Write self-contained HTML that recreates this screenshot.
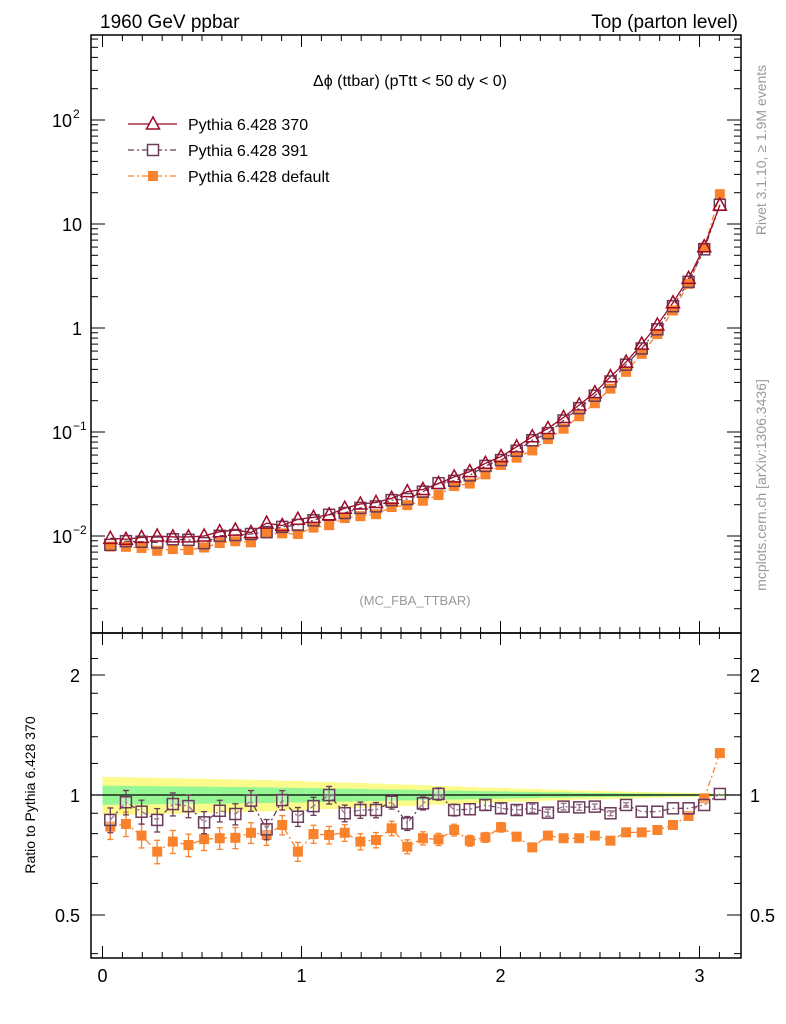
<!DOCTYPE html>
<html><head><meta charset="utf-8">
<style>
html,body{margin:0;padding:0;background:#fff;}
svg{display:block;font-family:"Liberation Sans",sans-serif;}
</style></head>
<body>
<svg id="chart" width="786" height="1024" viewBox="0 0 786 1024" xmlns="http://www.w3.org/2000/svg">
<g id="bands"></g>
<g id="marks"></g>
<g id="axes"></g>
<text x="100" y="28" font-size="19">1960 GeV ppbar</text>
<text x="738" y="28" font-size="19" text-anchor="end">Top (parton level)</text>
<text x="410" y="86" font-size="16" text-anchor="middle">Δϕ (ttbar) (pTtt &lt; 50 dy &lt; 0)</text>
<text x="415" y="605" font-size="13" fill="#999" text-anchor="middle">(MC_FBA_TTBAR)</text>
<text transform="translate(766,150) rotate(-90)" font-size="14" fill="#999" text-anchor="middle">Rivet 3.1.10, ≥ 1.9M events</text>
<text transform="translate(766,485) rotate(-90)" font-size="14" fill="#999" text-anchor="middle">mcplots.cern.ch [arXiv:1306.3436]</text>
<text transform="translate(35,795) rotate(-90)" font-size="14" text-anchor="middle">Ratio to Pythia 6.428 370</text>
<g>
 <g>
  <line x1="128" y1="124" x2="177" y2="124" stroke="#9b0a26" stroke-width="1.3"/>
  <path d="M153,117 L159.5,129 L146.5,129 Z" fill="#fff" stroke="#9b0a26" stroke-width="1.5"/>
  <text x="188" y="130" font-size="16">Pythia 6.428 370</text>
 </g>
 <g>
  <line x1="128" y1="150" x2="177" y2="150" stroke="#6b3a5a" stroke-width="1.3" stroke-dasharray="6,3,2,3"/>
  <rect x="147.5" y="144.5" width="11" height="11" fill="#fff" stroke="#6b3a5a" stroke-width="1.5"/>
  <text x="188" y="156" font-size="16">Pythia 6.428 391</text>
 </g>
 <g>
  <line x1="128" y1="176" x2="177" y2="176" stroke="#f9832d" stroke-width="1.3" stroke-dasharray="6,3,2,3"/>
  <rect x="148" y="171" width="10" height="10" fill="#f9832d"/>
  <text x="188" y="182" font-size="16">Pythia 6.428 default</text>
 </g>
</g>
</svg>
<script>
const mc370=[0.0095,0.0093,0.0097,0.0100,0.0098,0.0098,0.0100,0.0110,0.0114,0.0108,0.0133,0.0126,0.0145,0.0151,0.0160,0.0185,0.0203,0.0210,0.0230,0.0267,0.028,0.032,0.037,0.0416,0.050,0.058,0.072,0.090,0.108,0.138,0.182,0.239,0.34,0.47,0.70,1.07,1.75,3.0,6.05,15.2];
const ratio391=[0.866,0.959,0.908,0.866,0.949,0.938,0.854,0.913,0.896,0.968,0.820,0.971,0.882,0.938,1.0,0.900,0.917,0.917,0.962,0.849,0.953,1.006,0.917,0.921,0.944,0.926,0.917,0.926,0.903,0.935,0.931,0.935,0.900,0.944,0.908,0.908,0.926,0.926,0.944,1.006];
const ratioDef=[0.833,0.846,0.791,0.721,0.764,0.749,0.775,0.779,0.781,0.804,0.794,0.841,0.721,0.798,0.794,0.804,0.764,0.771,0.825,0.742,0.779,0.774,0.817,0.768,0.783,0.830,0.786,0.739,0.791,0.779,0.779,0.791,0.768,0.806,0.806,0.817,0.841,0.886,0.981,1.274];
const relErr=[0.055,0.054,0.053,0.052,0.051,0.050,0.049,0.048,0.047,0.046,0.045,0.043,0.042,0.040,0.039,0.037,0.036,0.034,0.032,0.031,0.029,0.027,0.026,0.024,0.022,0.021,0.019,0.018,0.016,0.015,0.013,0.012,0.011,0.010,0.009,0.008,0.007,0.006,0.005,0.004];
const xTicks=[0,1,2,3];
const mainTicks=[{v:100,l:"10",e:"2"},{v:10,l:"10"},{v:1,l:"1"},{v:0.1,l:"10",e:"−1"},{v:0.01,l:"10",e:"−2"}];
const ratioTicks=[{v:2,l:"2"},{v:1,l:"1"},{v:0.5,l:"0.5"}];
const NB=mc370.length, XMAX=Math.PI;

const L=91,R=741,T=35,MB=633,RB=958;
const sx=v=>102.5+199*v;
const sy=v=>120-104*(Math.log10(v)-2);
const sr=v=>795-120*Math.log2(v);
const NS="http://www.w3.org/2000/svg";
function mk(tag,attrs,parent){const e=document.createElementNS(NS,tag);for(const k in attrs)e.setAttribute(k,attrs[k]);parent.appendChild(e);return e;}
const bands=document.getElementById('bands'),marks=document.getElementById('marks'),axes=document.getElementById('axes');
const bw=XMAX/NB;
const xc=i=>(i+0.5)*bw;

// bands
for(let i=0;i<NB;i++){
  const x0=sx(i*bw),x1=sx((i+1)*bw);
  const y=mk('rect',{x:x0,y:sr(1+2*relErr[i]),width:x1-x0+0.5,height:sr(1-2*relErr[i])-sr(1+2*relErr[i]),fill:'#fbfb8c'},bands);
  
  
  const g=mk('rect',{x:x0,y:sr(1+relErr[i]),width:x1-x0+0.5,height:sr(1-relErr[i])-sr(1+relErr[i]),fill:'#94f794'},bands);
  
  
}
const one=mk('line',{x1:L,x2:R,y1:sr(1),y2:sr(1),stroke:'#000','stroke-width':1.3},bands);



function poly(pts,col,dash,name){
  const p=mk('polyline',{points:pts.map(q=>q.join(',')).join(' '),fill:'none',stroke:col,'stroke-width':1.3},marks);
  if(dash)p.setAttribute('stroke-dasharray',dash);
  
  
}
function errbar(x,y0,y1,col){
  mk('line',{x1:x,x2:x,y1:y0,y2:y1,stroke:col,'stroke-width':1.3},marks);
  mk('line',{x1:x-3,x2:x+3,y1:y0,y2:y0,stroke:col,'stroke-width':1.3},marks);
  mk('line',{x1:x-3,x2:x+3,y1:y1,y2:y1,stroke:col,'stroke-width':1.3},marks);
}
const cR='#9b0a26',cP='#6b3a5a',cO='#f9832d';
const mc391=mc370.map((v,i)=>v*ratio391[i]);
const mcDef=mc370.map((v,i)=>v*ratioDef[i]);
// main lines
poly(mcDef.map((v,i)=>[sx(xc(i)),sy(v)]),cO,'6,3,2,3','line-default');
poly(mc391.map((v,i)=>[sx(xc(i)),sy(v)]),cP,'6,3,2,3','line-391');
poly(mc370.map((v,i)=>[sx(xc(i)),sy(v)]),cR,null,'line-370');
// ratio lines
poly(ratioDef.map((v,i)=>[sx(xc(i)),sr(v)]),cO,'6,3,2,3','ratio-line-default');
poly(ratio391.map((v,i)=>[sx(xc(i)),sr(v)]),cP,'6,3,2,3','ratio-line-391');

for(let i=0;i<NB;i++){
  const x=sx(xc(i));
  // main markers
  let m=mk('rect',{x:x-5,y:sy(mcDef[i])-5,width:10,height:10,fill:cO},marks);
  
  
  m=mk('rect',{x:x-5.5,y:sy(mc391[i])-5.5,width:11,height:11,fill:'none',stroke:cP,'stroke-width':1.5},marks);
  
  
  const y=sy(mc370[i]);
  m=mk('path',{d:`M${x},${y-7} L${x+6.5},${y+5} L${x-6.5},${y+5} Z`,fill:'none',stroke:cR,'stroke-width':1.5},marks);
  
  
  // ratio markers
  const e=relErr[i]*1.3;
  if(e>0.012)errbar(x,sr(ratioDef[i]*(1+e)),sr(ratioDef[i]*(1-e)),cO);
  m=mk('rect',{x:x-5,y:sr(ratioDef[i])-5,width:10,height:10,fill:cO},marks);
  
  
  if(e>0.012)errbar(x,sr(ratio391[i]*(1+e)),sr(ratio391[i]*(1-e)),cP);
  m=mk('rect',{x:x-5.5,y:sr(ratio391[i])-5.5,width:11,height:11,fill:'#fff','fill-opacity':0.3,stroke:cP,'stroke-width':1.5},marks);
  
  
}

// frames
for(const [t,b,n] of [[T,MB,'main-frame'],[MB,RB,'ratio-frame']]){
  const f=mk('rect',{x:L,y:t,width:R-L,height:b-t,fill:'none',stroke:'#000','stroke-width':1.5},axes);
  
  
}
// x ticks
for(let k=0;k<=31;k++){
  const v=k/10,x=sx(v),len=(k%10===0)?12:6;
  for(const [yb,yt] of [[MB,T],[RB,MB]]){
    mk('line',{x1:x,x2:x,y1:yb,y2:yb-len,stroke:'#000','stroke-width':1},axes);
    mk('line',{x1:x,x2:x,y1:yt,y2:yt+len,stroke:'#000','stroke-width':1},axes);
  }
}
xTicks.forEach(v=>{
  const t=mk('text',{x:sx(v),y:982,'font-size':18,'text-anchor':'middle'},axes);
  t.textContent=v;
  
  
});
// main y ticks (log)
for(let d=-3;d<=2;d++){
  for(let m=1;m<=9;m++){
    const v=m*Math.pow(10,d),y=sy(v);
    if(y<T||y>MB)continue;
    const len=m===1?14:7;
    mk('line',{x1:L,x2:L+len,y1:y,y2:y,stroke:'#000','stroke-width':1},axes);
    mk('line',{x1:R,x2:R-len,y1:y,y2:y,stroke:'#000','stroke-width':1},axes);
  }
}
mainTicks.forEach(tk=>{
  const t=mk('text',{x:tk.e?72:82,y:sy(tk.v)+7,'font-size':18,'text-anchor':'end'},axes);
  t.textContent=tk.l;
  
  
  if(tk.e){const s=mk('text',{x:73,y:sy(tk.v)-2,'font-size':12},axes);s.textContent=tk.e;}
});
// ratio y ticks
[0.4,0.5,0.6,0.7,0.8,0.9,1,1.2,1.4,1.6,1.8,2,2.2].forEach(v=>{
  const y=sr(v);if(y<MB||y>RB)return;
  const len=(v===0.5||v===1||v===2)?14:7;
  mk('line',{x1:L,x2:L+len,y1:y,y2:y,stroke:'#000','stroke-width':1},axes);
  mk('line',{x1:R,x2:R-len,y1:y,y2:y,stroke:'#000','stroke-width':1},axes);
});
ratioTicks.forEach(tk=>{
  const t=mk('text',{x:80,y:sr(tk.v)+7,'font-size':18,'text-anchor':'end'},axes);
  t.textContent=tk.l;
  
  
  const t2=mk('text',{x:750,y:sr(tk.v)+7,'font-size':18},axes);
  t2.textContent=tk.l;
  
  
});
</script>
</body></html>
